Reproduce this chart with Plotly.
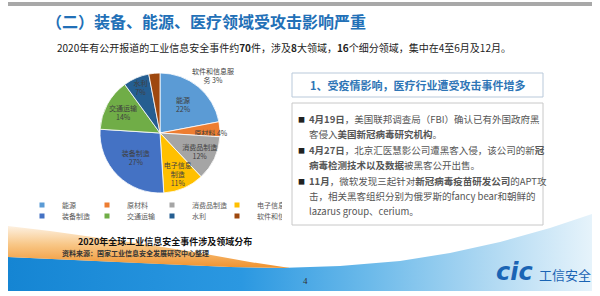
import plotly.graph_objects as go

# ---------------- data ----------------
categories = ["能源", "原材料", "消费品制造", "电子信息制造", "装备制造", "交通运输", "水利", "软件和信息服务"]
shares = [22, 4, 12, 11, 27, 14, 7, 3]
slice_colors = ["#5B9BD5", "#ED7D31", "#A5A5A5", "#FFC000", "#4472C4", "#70AD47", "#255E91", "#9E480E"]
slice_label_lines = ["能源", "原材料", "消费品制造", "电子信息<br>制造", "装备制造", "交通运输", "水利", "软件和信息服<br>务"]

title_text = "（二）装备、能源、医疗领域受攻击影响严重"
subtitle_text = ("2020年有公开报道的工业信息安全事件约<b>70</b>件，涉及<b>8</b>大领域，"
                 "<b>16</b>个细分领域，集中在4至6月及12月。")
box_title = "1、受疫情影响，医疗行业遭受攻击事件增多"
body_lines = [
    (True, "<b>4月19日</b>，美国联邦调查局（FBI）确认已有外国政府黑"),
    (False, "客侵入<b>美国新冠病毒研究机构</b>。"),
    (True, "<b>4月27日</b>，北京汇医慧影公司遭黑客入侵，该公司的新<b>冠</b>"),
    (False, "<b>病毒检测技术以及数据</b>被黑客公开出售。"),
    (True, "<b>11月</b>，微软发现三起针对<b>新冠病毒疫苗研发公司</b>的APT攻"),
    (False, "击，相关黑客组织分别为俄罗斯的fancy bear和朝鲜的"),
    (False, "lazarus group、cerium。"),
]
caption_text = "2020年全球工业信息安全事件涉及领域分布"
source_text = "资料来源：国家工业信息安全发展研究中心整理"
page_number = "4"

# ---------------- layout constants ----------------
W, H = 600, 296
FONT = "Noto Sans CJK SC"

fig = go.Figure()

# background decorations (pixel coordinates on hidden axes)
blue_x = [8, 80, 160, 230, 280, 340, 400, 450, 500, 550, 592, 592, 8]
blue_y = [257, 260, 264, 267, 268, 266, 261, 253, 242, 228, 214, 291, 291]
fig.add_trace(go.Scatter(
    x=blue_x, y=blue_y, mode="lines", fill="toself", line=dict(width=0),
    fillgradient=dict(type="horizontal", start=8, stop=592,
                      colorscale=[[0, "#1585d3"], [0.4, "#2b98e1"], [0.62, "#6cbaea"],
                                  [0.82, "#aed8f2"], [1, "#e6f3fb"]]),
    hoverinfo="skip", showlegend=False))

orange_x = [8, 50, 100, 150, 200, 250, 290, 230, 160, 80, 8]
orange_y = [226, 231, 238, 245, 253, 262, 268, 267, 264, 260, 257]
fig.add_trace(go.Scatter(
    x=orange_x, y=orange_y, mode="lines", fill="toself", line=dict(width=0),
    fillgradient=dict(type="vertical", start=226, stop=268,
                      colorscale=[[0, "#fdf1e2"], [0.45, "#f8c685"], [1, "#f0922e"]]),
    hoverinfo="skip", showlegend=False))

# pie
pie_text = []
for lab, v in zip(slice_label_lines, shares):
    if lab == "原材料":
        pie_text.append(f"{lab} {v}%")
    else:
        pie_text.append(f"{lab}<br>{v}%")
positions = ["inside"] * (len(categories) - 1) + ["none"]

fig.add_trace(go.Pie(
    labels=categories, values=shares, text=pie_text, textinfo="text",
    textposition=positions, insidetextorientation="horizontal",
    sort=False, direction="clockwise", rotation=0,
    marker=dict(colors=slice_colors, line=dict(color="white", width=0.8)),
    textfont=dict(family=FONT, size=7, color="#3f3f3f"),
    domain=dict(x=[100 / W, 220 / W], y=[1 - 193 / H, 1 - 73 / H]),
    showlegend=False, hoverinfo="skip"))

# legend entries (two rows of four)
for i, (cat, col) in enumerate(zip(categories, slice_colors)):
    fig.add_trace(go.Scatter(
        x=[None], y=[None], mode="markers", name=cat,
        marker=dict(symbol="square", size=5, color=col),
        legend="legend" if i < 4 else "legend2", showlegend=True))

legend_common = dict(orientation="h", xanchor="left", yanchor="middle",
                     entrywidth=20, entrywidthmode="pixels", itemwidth=30,
                     font=dict(family=FONT, size=7, color="#595959"),
                     bgcolor="rgba(0,0,0,0)", tracegroupgap=0)

annotations = []
def ann(x, y, text, size, color="#333", xanchor="left", family=FONT, **kw):
    annotations.append(dict(x=x, y=y, xref="x", yref="y", text=text, showarrow=False,
                            xanchor=xanchor, yanchor="middle",
                            font=dict(family=family, size=size, color=color), **kw))

ann(44, 21, f"<b>{title_text}</b>", 16, color="#2270b7")
ann(55, 47, subtitle_text, 10, color="#222")
ann(418, 85, f"<b>{box_title}</b>", 11, color="#2e75b6", xanchor="center")

ys = [119, 134, 150, 165, 181, 196, 211]
for (bullet, txt), yy in zip(body_lines, ys):
    if bullet:
        ann(296, yy, "■", 7, color="#222")
    ann(307, yy, txt, 9.5, color="#555")

# label for the small top slice, placed outside
ann(213, 75, f"{slice_label_lines[-1]} {shares[-1]}%", 7, color="#3f3f3f", xanchor="center")

ann(165, 241, f"<b>{caption_text}</b>", 9, color="#111", xanchor="center")
ann(60, 253, f"<b>{source_text}</b>", 7, color="#333")
ann(305, 281, page_number, 9, color="#333", xanchor="center", family="Liberation Serif")
ann(494, 272, "<b><i>cic</i></b>", 24, color="#1a64b4", family="DejaVu Sans")
ann(537, 274, "工信安全", 13, color="#1a64b4")

shapes = [
    dict(type="rect", xref="x", yref="y", x0=8, x1=592, y0=2, y1=6,
         fillcolor="#a8a8a8", line=dict(width=0), layer="below"),
    dict(type="rect", xref="x", yref="y", x0=292, x1=543, y0=73, y1=97,
         fillcolor="white", line=dict(color="#b9c9da", width=1), layer="below"),
    dict(type="rect", xref="x", yref="y", x0=292, x1=543, y0=103, y1=225,
         fillcolor="white", line=dict(color="#c8c8c8", width=1), layer="below"),
]

fig.update_layout(
    width=W, height=H, margin=dict(l=0, r=0, t=0, b=0),
    paper_bgcolor="white", plot_bgcolor="rgba(0,0,0,0)",
    xaxis=dict(range=[0, W], visible=False, fixedrange=True),
    yaxis=dict(range=[H, 0], visible=False, fixedrange=True),
    uniformtext=dict(minsize=7, mode="show"),
    legend=dict(x=22 / W, y=1 - 205 / H, **legend_common),
    legend2=dict(x=22 / W, y=1 - 216 / H, **legend_common),
    annotations=annotations, shapes=shapes, showlegend=True,
)

fig.write_html("out.html")
